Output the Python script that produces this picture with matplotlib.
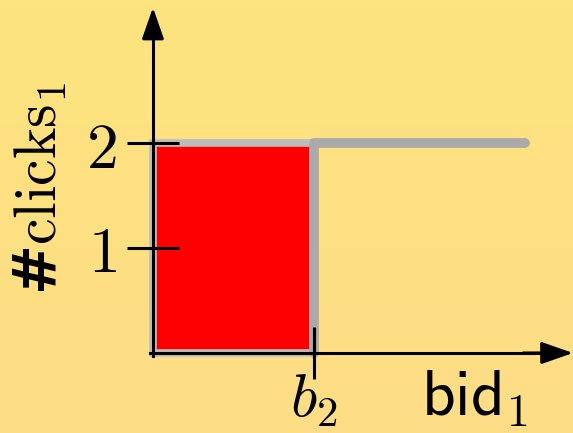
import matplotlib
matplotlib.use("Agg")
import matplotlib.pyplot as plt
import numpy as np
from matplotlib.colors import LinearSegmentedColormap
from matplotlib.patches import Rectangle

plt.rcParams["mathtext.fontset"] = "custom"
plt.rcParams["mathtext.rm"] = "cmr10"
plt.rcParams["mathtext.it"] = "cmmi10"
plt.rcParams["mathtext.sf"] = "cmss10"
plt.rcParams["mathtext.bf"] = "DejaVu Sans:bold"

# data (x in units of b2, y in clicks)
b2 = 1.0
clicks_max = 2
y_ticks = [1, 2]
y_tick_labels = ["$1$", "$2$"]
step_x = [b2, b2, 2.31]
step_y = [0, clicks_max, clicks_max]

bg = "#fee382"
fig = plt.figure(figsize=(5.73, 4.33), dpi=100, facecolor=bg)
ax = fig.add_axes([0, 0, 1, 1], facecolor=bg)
xlim = (-0.950, 2.609)
ylim = (-0.762, 3.362)

# slight vertical gradient of the slide background
grad = LinearSegmentedColormap.from_list("bg", ["#fddd86", "#fee47f"])
ax.imshow(np.linspace(0, 1, 100).reshape(-1, 1), cmap=grad, aspect="auto",
          origin="lower", extent=(*xlim, *ylim), zorder=0)
ax.set_xlim(*xlim)
ax.set_ylim(*ylim)
ax.set_axisbelow(False)

# red area under the curve
ax.add_patch(Rectangle((0, 0), b2, clicks_max, facecolor="#ff0000",
                       edgecolor="#bdbdbd", lw=5.5, zorder=1))
ax.plot(step_x, step_y, color="#aaaaaa", lw=7, solid_capstyle="round",
        solid_joinstyle="round", zorder=1.5)

# axes through the origin
for s in ["top", "right"]:
    ax.spines[s].set_visible(False)
ax.spines["left"].set_position(("data", 0))
ax.spines["bottom"].set_position(("data", 0))
ax.spines["left"].set_bounds(-0.03, 3.2)
ax.spines["bottom"].set_bounds(-0.02, 2.5)
for s in ["left", "bottom"]:
    ax.spines[s].set_linewidth(2.2)
    ax.spines[s].set_zorder(5)

arrow = dict(arrowstyle="-|>,head_length=0.4,head_width=0.14",
             mutation_scale=48, lw=2.2, color="k", shrinkA=0, shrinkB=0)
ax.annotate("", xy=(0, 3.29), xytext=(0, 3.0), arrowprops=arrow, zorder=6)
ax.annotate("", xy=(2.609, 0), xytext=(2.3, 0), arrowprops=arrow, zorder=6)

ax.set_yticks(y_ticks)
ax.set_yticklabels(y_tick_labels, fontsize=46)
ax.set_xticks([b2])
ax.set_xticklabels(["$b_2$"], fontsize=44)
ax.tick_params(direction="inout", length=38, width=2.2)
ax.tick_params(axis="y", pad=7)
ax.tick_params(axis="x", pad=-6)

ax.text(2.00, -0.43, r"$\mathsf{bid}_1$", fontsize=47, ha="center", va="center")
ax.text(-0.70, 1.57, r"$\mathbf{\#}\mathrm{clicks}_1$", fontsize=43,
        rotation=90, ha="center", va="center")

fig.savefig("out.png", dpi=100, facecolor=bg)
